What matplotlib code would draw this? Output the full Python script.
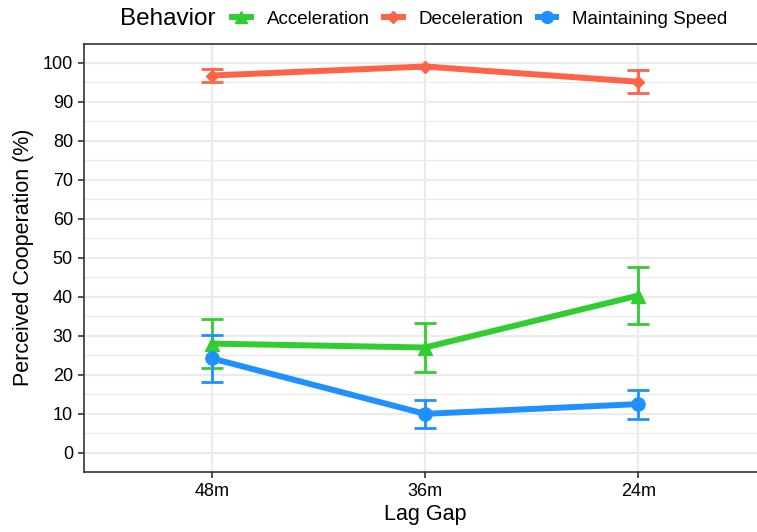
import matplotlib
matplotlib.use("Agg")
import matplotlib.pyplot as plt
from matplotlib.lines import Line2D
import numpy as np

plt.rcParams['font.family'] = ['Liberation Sans', 'DejaVu Sans']

categories = ["48m", "36m", "24m"]
behaviors = ["Acceleration", "Deceleration", "Maintaining Speed"]
means = {
    "Acceleration": [28.0, 27.0, 40.3],
    "Deceleration": [96.7, 99.0, 95.1],
    "Maintaining Speed": [24.2, 10.0, 12.5],
}
lower = {
    "Acceleration": [21.8, 20.8, 32.9],
    "Deceleration": [95.0, 98.5, 92.3],
    "Maintaining Speed": [18.2, 6.5, 8.8],
}
upper = {
    "Acceleration": [34.2, 33.3, 47.6],
    "Deceleration": [98.3, 99.5, 98.0],
    "Maintaining Speed": [30.2, 13.5, 16.2],
}
colors = {"Acceleration": "#32CD32", "Deceleration": "#FF6347", "Maintaining Speed": "#1E90FF"}
markers = {"Acceleration": "^", "Deceleration": "D", "Maintaining Speed": "o"}
msizes = {"Acceleration": 9.5, "Deceleration": 6.5, "Maintaining Speed": 9.5}

W, H = 757, 532
fig = plt.figure(figsize=(W / 100, H / 100), dpi=100)
left, right, top, bottom = 84, 766, 43.5, 472
ax = fig.add_axes([left / W, 1 - bottom / H, (right - left) / W, (bottom - top) / H])

x = np.arange(1, len(categories) + 1)
for b in behaviors:
    m = np.array(means[b])
    lo = m - np.array(lower[b])
    hi = np.array(upper[b]) - m
    ax.errorbar(x, m, yerr=[lo, hi], fmt='none', ecolor=colors[b], elinewidth=2.0,
                capsize=7.6, capthick=2.0, zorder=3)
    ax.plot(x, m, color=colors[b], lw=4.3, marker=markers[b], ms=msizes[b],
            solid_capstyle='butt', zorder=4)

ax.set_xlim(0.4, 3.6)
ax.set_ylim(-4.9, 104.9)
ax.set_xticks(x)
ax.set_xticklabels(categories)
ax.set_yticks(np.arange(0, 101, 10))
ax.set_yticks(np.arange(5, 101, 10), minor=True)
ax.grid(True, which='major', color='#EBEBEB', lw=1.6, zorder=0)
ax.grid(True, which='minor', axis='y', color='#EBEBEB', lw=0.9, zorder=0)
ax.set_axisbelow(True)
for s in ['left', 'bottom', 'top']:
    ax.spines[s].set_color('#333333')
    ax.spines[s].set_linewidth(1.2)
ax.spines['right'].set_visible(False)
ax.tick_params(axis='both', which='major', length=4.5, width=1.2, color='#333333',
               labelsize=13, labelcolor='black', pad=3.5)
ax.tick_params(axis='both', which='minor', length=0)
ax.set_xlabel("Lag Gap", fontsize=15.5, labelpad=3)
ax.set_ylabel("Perceived Cooperation (%)", fontsize=15.5, labelpad=6)

fig.text(120 / W, 1 - 19 / H, "Behavior", fontsize=17.5, va='center', ha='left')
handles = [Line2D([0], [0], color=colors[b], lw=4.3, marker=markers[b], ms=msizes[b] * 0.9)
           for b in behaviors]
fig.legend(handles, behaviors, loc='center left', bbox_to_anchor=(232 / W, 1 - 19 / H),
           ncol=3, frameon=False, fontsize=13.5, handlelength=1.0, handletextpad=0.85,
           columnspacing=0.75, borderaxespad=0, borderpad=0)

fig.savefig("out.png", dpi=100)
